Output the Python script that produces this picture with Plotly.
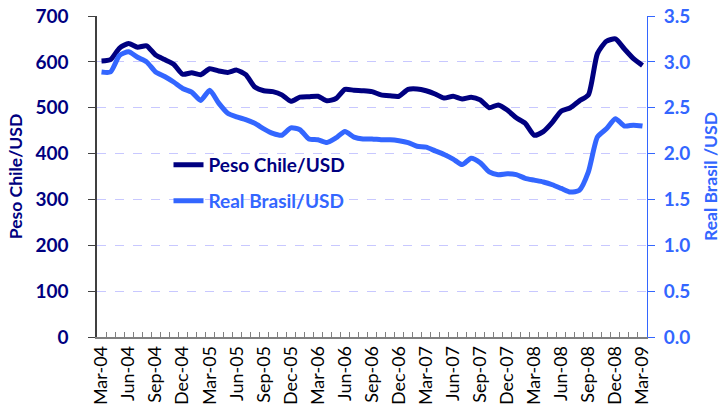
import plotly.graph_objects as go

months = []
_mn = ["Jan", "Feb", "Mar", "Apr", "May", "Jun", "Jul", "Aug", "Sep", "Oct", "Nov", "Dec"]
for y in range(4, 10):
    for m in range(12):
        months.append(f"{_mn[m]}-{y:02d}")
months = months[2:2 + 61]  # Mar-04 .. Mar-09

peso_chile = [602, 605, 630, 640, 632, 635, 615, 605, 595, 573,
              576, 572, 585, 580, 577, 582, 572, 545, 537, 535,
              528, 514, 523, 524, 525, 515, 520, 540, 538, 537,
              535, 528, 526, 525, 540, 541, 537, 530, 521, 525,
              519, 523, 517, 500, 506, 495, 478, 466, 440, 448,
              468, 493, 500, 515, 528, 618, 645, 650, 628, 607, 592]

real_brasil = [2.89, 2.89, 3.07, 3.11, 3.05, 3.00, 2.89, 2.84, 2.78, 2.71,
               2.67, 2.58, 2.69, 2.55, 2.44, 2.40, 2.37, 2.33, 2.27, 2.22,
               2.20, 2.28, 2.26, 2.16, 2.15, 2.12, 2.17, 2.24, 2.18, 2.16,
               2.16, 2.15, 2.15, 2.14, 2.12, 2.08, 2.07, 2.03, 1.99, 1.94,
               1.88, 1.95, 1.90, 1.80, 1.77, 1.78, 1.77, 1.73, 1.71, 1.69,
               1.66, 1.62, 1.58, 1.60, 1.80, 2.18, 2.27, 2.38, 2.30, 2.31, 2.30]

tick_text = [m if i % 3 == 0 else "" for i, m in enumerate(months)]

NAVY = "#000080"
BLUE = "#3366FF"
FONT = "Lato"

fig = go.Figure()
fig.add_trace(go.Scatter(x=months, y=peso_chile, name="Peso Chile/USD", mode="lines",
                         line=dict(color=NAVY, width=5, shape="spline", smoothing=0.6),
                         legend="legend"))
fig.add_trace(go.Scatter(x=months, y=real_brasil, name="Real Brasil/USD", mode="lines",
                         line=dict(color=BLUE, width=5, shape="spline", smoothing=0.6),
                         yaxis="y2", legend="legend2"))

fig.update_layout(
    width=727, height=416,
    margin=dict(l=97, r=80, t=16, b=79),
    paper_bgcolor="white", plot_bgcolor="white",
    font=dict(family=FONT),
    xaxis=dict(type="category", categoryorder="array", categoryarray=months,
               range=[-0.5, 60.5], automargin=False,
               tickmode="array", tickvals=months, ticktext=tick_text,
               tickson="boundaries", ticks="inside", ticklen=5, tickcolor="#808080",
               tickangle=-90, tickfont=dict(family=FONT, size=18, color="#000000"),
               showline=True, linecolor="#808080", linewidth=1.5,
               showgrid=False, zeroline=False),
    yaxis=dict(range=[0, 700], dtick=100, automargin=False, ticklabeloverflow="allow",
               tickfont=dict(family=FONT, size=19, color=NAVY, weight="bold"),
               ticks="outside", ticklen=7, tickcolor="#404040",
               showline=True, linecolor="#404040", linewidth=1.5,
               showgrid=True, gridcolor="#C8C8FF", griddash="dash", gridwidth=1,
               zeroline=False, ticklabelstandoff=16,
               title=dict(text="Peso Chile/USD", font=dict(family=FONT, size=17.5, color=NAVY, weight="bold"),
                          standoff=8)),
    yaxis2=dict(range=[0, 3.5], dtick=0.5, tickformat=".1f", overlaying="y", side="right",
                automargin=False, ticklabeloverflow="allow",
                tickfont=dict(family=FONT, size=19, color=BLUE, weight="bold"),
                ticks="outside", ticklen=7, tickcolor=BLUE,
                showline=True, linecolor=BLUE, linewidth=1,
                showgrid=False, zeroline=False, ticklabelstandoff=5,
                title=dict(text="Real Brasil /USD", font=dict(family=FONT, size=17.5, color=BLUE, weight="bold"),
                           standoff=15)),
    legend=dict(x=0.13, y=0.536, xanchor="left", yanchor="middle", bgcolor="rgba(0,0,0,0)",
                font=dict(family=FONT, size=19, color=NAVY, weight="bold")),
    legend2=dict(x=0.13, y=0.424, xanchor="left", yanchor="middle", bgcolor="rgba(0,0,0,0)",
                 font=dict(family=FONT, size=19, color=BLUE, weight="bold")),
    showlegend=True,
)

fig.write_html("out.html", config={"displayModeBar": False},
               post_script="document.body.style.margin='0';")
